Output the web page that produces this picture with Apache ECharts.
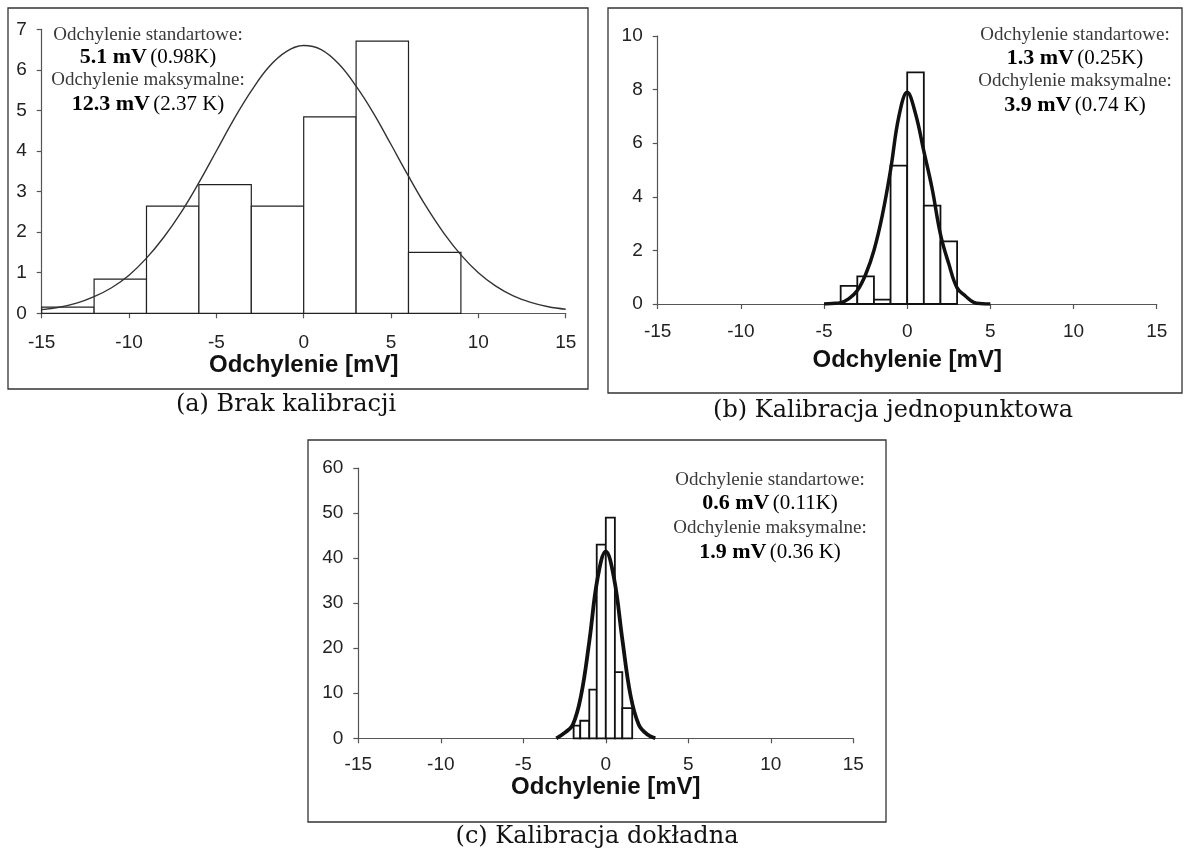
<!DOCTYPE html>
<html>
<head>
<meta charset="utf-8">
<script src="https://cdn.jsdelivr.net/npm/echarts@6/dist/echarts.min.js"></script>
<style>
  html, body { margin: 0; padding: 0; background: #fff; }
  #chart { width: 1185px; height: 852px; }
</style>
</head>
<body>
<div id="chart"></div>
<script>
// (a) Brak kalibracji: histogram bin edges, bar heights and fitted curve
const edgesA = [-15, -12, -9, -6, -3, 0, 3, 6, 9];
const countsA = [0.15, 0.84, 2.64, 3.17, 2.64, 4.84, 6.71, 1.5];
const curveXA = [-15, -14, -13, -12, -11, -10, -9, -8, -7, -6, -5, -4, -3, -2, -1, 0, 1, 2, 3, 4, 5, 6, 7, 8, 9, 10, 11, 12, 13, 14, 15];
const curveYA = [0.09, 0.15, 0.25, 0.41, 0.63, 0.94, 1.36, 1.88, 2.5, 3.22, 4.0, 4.78, 5.48, 6.07, 6.45, 6.6, 6.5, 6.15, 5.6, 4.93, 4.16, 3.38, 2.64, 1.99, 1.44, 1.0, 0.67, 0.43, 0.27, 0.16, 0.1];

// (b) Kalibracja jednopunktowa
const edgesB = [-4, -3, -2, -1, 0, 1, 2, 3];
const countsB = [0.68, 1.03, 0.16, 5.16, 8.64, 3.67, 2.34];
const curveXB = [-5, -4.5, -4, -3.5, -3, -2.5, -2, -1.5, -1, -0.5, 0, 0.5, 1, 1.5, 2, 2.5, 3, 3.5, 4, 4.5, 5];
const curveYB = [0, 0.02, 0.05, 0.2, 0.5, 1.1, 2.0, 3.3, 5.0, 7.0, 7.9, 7.1, 5.7, 4.3, 2.6, 1.5, 0.6, 0.3, 0.06, 0.01, 0];

// (c) Kalibracja dokładna
const edgesC = [-1.95, -1.55, -1.0, -0.55, 0, 0.55, 1.0, 1.6];
const countsC = [2.8, 3.9, 10.8, 43, 49, 14.7, 6.7];
const curveXC = [-3, -2.5, -2, -1.5, -1, -0.5, 0, 0.5, 1, 1.5, 2, 2.5, 3];
const curveYC = [0, 1.2, 3.0, 9.5, 21.5, 35.5, 41.5, 35.5, 22, 9.5, 3.0, 0.9, 0];

// Axis ticks
const xTicks = { min: -15, max: 15, interval: 5 };
const yTicksA = { min: 0, max: 7, interval: 1 };
const yTicksB = { min: 0, max: 10, interval: 2 };
const yTicksC = { min: 0, max: 60, interval: 10 };

// Annotation and caption texts
const statsA = ['Odchylenie standartowe:', '5.1 mV', '(0.98K)', 'Odchylenie maksymalne:', '12.3 mV', '(2.37 K)'];
const statsB = ['Odchylenie standartowe:', '1.3 mV', '(0.25K)', 'Odchylenie maksymalne:', '3.9 mV', '(0.74 K)'];
const statsC = ['Odchylenie standartowe:', '0.6 mV', '(0.11K)', 'Odchylenie maksymalne:', '1.9 mV', '(0.36 K)'];
const captions = ['(a) Brak kalibracji', '(b) Kalibracja jednopunktowa', '(c) Kalibracja dokładna'];
const axisTitle = 'Odchylenie [mV]';

const SANS = '"Liberation Sans", Arial, sans-serif';
const SERIF = '"Liberation Serif", "Times New Roman", serif';
const CAPTION_FONT = '"DejaVu Serif", serif';

function binRows(edges, counts) {
  return counts.map((c, i) => [edges[i], edges[i + 1], c]);
}
function zipXY(xs, ys) {
  return xs.map((x, i) => [x, ys[i]]);
}

function histSeries(idx, edges, counts, lineWidth, stroke) {
  return {
    type: 'custom',
    xAxisIndex: idx,
    yAxisIndex: idx,
    data: binRows(edges, counts),
    z: 2,
    renderItem: function (params, api) {
      const p0 = api.coord([api.value(0), 0]);
      const p1 = api.coord([api.value(1), api.value(2)]);
      return {
        type: 'rect',
        shape: { x: p0[0], y: p1[1], width: p1[0] - p0[0], height: p0[1] - p1[1] },
        style: { fill: '#fff', stroke: stroke, lineWidth: lineWidth }
      };
    }
  };
}

function curveSeries(idx, xs, ys, width, color) {
  return {
    type: 'line',
    xAxisIndex: idx,
    yAxisIndex: idx,
    data: zipXY(xs, ys),
    smooth: 0.4,
    showSymbol: false,
    symbol: 'none',
    z: 3,
    lineStyle: { color: color, width: width },
    silent: true
  };
}

function xAxisCfg(idx, labelMargin, nameGap) {
  return {
    type: 'value',
    gridIndex: idx,
    min: xTicks.min, max: xTicks.max, interval: xTicks.interval,
    name: axisTitle,
    nameLocation: 'middle',
    nameGap: nameGap,
    nameTextStyle: { fontFamily: SANS, fontSize: 24, fontWeight: 'bold', color: '#111' },
    axisLine: { show: true, onZero: false, lineStyle: { color: '#555', width: 1.2 } },
    axisTick: { show: true, length: 5, lineStyle: { color: '#555', width: 1.2 } },
    axisLabel: { margin: labelMargin, fontFamily: SANS, fontSize: 19, color: '#222' },
    splitLine: { show: false }
  };
}

function yAxisCfg(idx, t) {
  return {
    type: 'value',
    gridIndex: idx,
    min: t.min, max: t.max, interval: t.interval,
    axisLine: { show: true, onZero: false, lineStyle: { color: '#555', width: 1.2 } },
    axisTick: { show: true, length: 5, lineStyle: { color: '#555', width: 1.2 } },
    axisLabel: { margin: 15, fontFamily: SANS, fontSize: 19, color: '#222' },
    splitLine: { show: false }
  };
}

function statsGraphics(s, cx, ys) {
  const plain = { fontFamily: SERIF, fontSize: 19, fill: '#3a3a3a' };
  const rich = {
    b: { fontFamily: SERIF, fontSize: 22, fontWeight: 'bold', color: '#111' },
    r: { fontFamily: SERIF, fontSize: 21, color: '#444' }
  };
  return [
    { type: 'text', x: cx, y: ys[0], style: Object.assign({ text: s[0], align: 'center', verticalAlign: 'middle' }, plain) },
    { type: 'text', x: cx, y: ys[1], style: { text: '{b|' + s[1] + '} {r|' + s[2] + '}', rich: rich, align: 'center', verticalAlign: 'middle' } },
    { type: 'text', x: cx, y: ys[2], style: Object.assign({ text: s[3], align: 'center', verticalAlign: 'middle' }, plain) },
    { type: 'text', x: cx, y: ys[3], style: { text: '{b|' + s[4] + '} {r|' + s[5] + '}', rich: rich, align: 'center', verticalAlign: 'middle' } }
  ];
}

function frame(x, y, w, h) {
  return { type: 'rect', shape: { x: x, y: y, width: w, height: h }, style: { fill: 'transparent', stroke: '#333', lineWidth: 1.3 }, z: 0 };
}

function caption(text, cx, cy) {
  return { type: 'text', x: cx, y: cy, style: { text: text, align: 'center', verticalAlign: 'middle', fontFamily: CAPTION_FONT, fontSize: 24, fill: '#111' } };
}

const chart = echarts.init(document.getElementById('chart'), null, { renderer: 'canvas' });

chart.setOption({
  backgroundColor: '#fff',
  animation: false,
  grid: [
    { left: 41.7, top: 29.3, width: 524, height: 284, containLabel: false, outerBoundsMode: 'none' },
    { left: 657.7, top: 36, width: 499, height: 268, containLabel: false, outerBoundsMode: 'none' },
    { left: 358.3, top: 468, width: 495, height: 270.3, containLabel: false, outerBoundsMode: 'none' }
  ],
  xAxis: [xAxisCfg(0, 20, 38), xAxisCfg(1, 18, 44), xAxisCfg(2, 17, 36)],
  yAxis: [yAxisCfg(0, yTicksA), yAxisCfg(1, yTicksB), yAxisCfg(2, yTicksC)],
  series: [
    histSeries(0, edgesA, countsA, 1.2, '#222'),
    curveSeries(0, curveXA, curveYA, 1.4, '#333'),
    histSeries(1, edgesB, countsB, 1.8, '#111'),
    curveSeries(1, curveXB, curveYB, 3.5, '#111'),
    histSeries(2, edgesC, countsC, 1.8, '#111'),
    curveSeries(2, curveXC, curveYC, 3.8, '#111')
  ],
  graphic: [
    frame(8, 8, 580, 381),
    frame(608, 8, 574, 385),
    frame(308, 440, 578, 382),
    caption(captions[0], 286, 405),
    caption(captions[1], 893, 411),
    caption(captions[2], 597, 837)
  ]
    .concat(statsGraphics(statsA, 148, [35, 57, 80, 104]))
    .concat(statsGraphics(statsB, 1075, [35, 58, 81, 105]))
    .concat(statsGraphics(statsC, 770, [480, 503, 528, 552]))
});
</script>
</body>
</html>
